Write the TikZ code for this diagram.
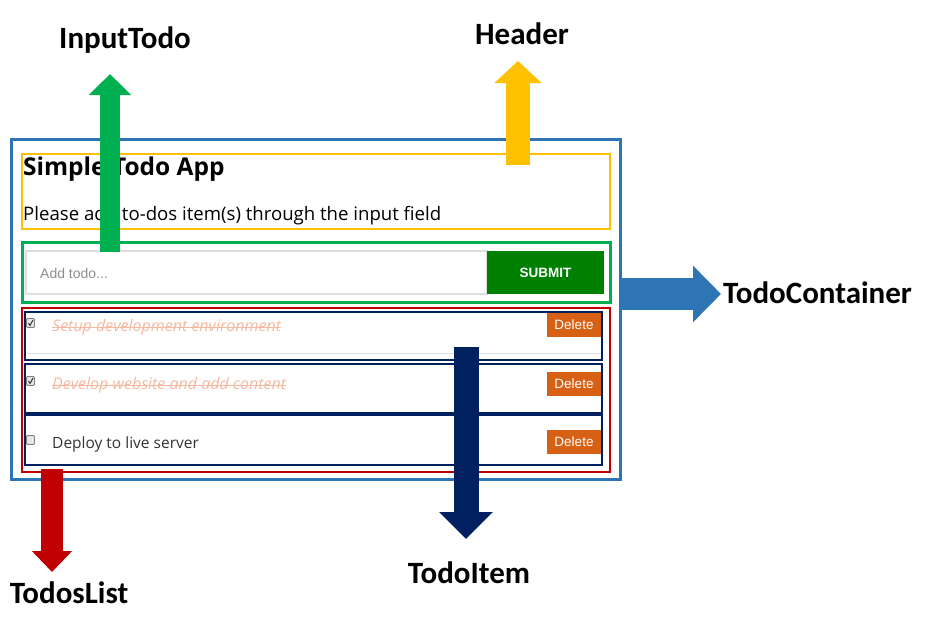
\documentclass[tikz,border=0pt]{standalone}
\usepackage{fontspec}
\setmainfont{Carlito}
\newfontfamily\uifont{Open Sans}
\newfontfamily\webfont{Liberation Sans}
\usetikzlibrary{arrows.meta}
\definecolor{contblue}{RGB}{46,117,182}
\definecolor{headyellow}{RGB}{255,192,0}
\definecolor{inputgreen}{RGB}{0,176,80}
\definecolor{listred}{RGB}{192,0,0}
\definecolor{itemnavy}{RGB}{0,32,96}
\definecolor{submitgreen}{RGB}{0,128,0}
\definecolor{deleteorange}{RGB}{214,96,20}
\definecolor{donetext}{RGB}{244,185,160}
\definecolor{fieldgray}{RGB}{222,222,222}
\begin{document}
\begin{tikzpicture}[x=1pt, y=-1pt,
  box/.style = {draw=#1, line width=2.5pt, inner sep=0pt},
  label/.style = {font=\bfseries\fontsize{31}{34}\selectfont, inner sep=0pt},
  fat/.style = {line width=#1},
  delbtn/.style = {fill=deleteorange, text=white, minimum width=54pt, minimum height=24pt, inner sep=0pt, font=\webfont\fontsize{13.5}{15}\selectfont},
  itemtext/.style = {anchor=west, inner sep=0pt, font=\uifont\fontsize{15.5}{18}\selectfont},
  donetask/.style = {itemtext, text=donetext, font=\uifont\itshape\fontsize{16}{18}\selectfont},
  chkbox/.style = {draw=gray, fill=black!10, line width=0.8pt, minimum width=8pt, minimum height=9pt, inner sep=0pt, rounded corners=1pt}]
\useasboundingbox (0,0) rectangle (934,626);
\node[box=contblue, line width=3pt, minimum width=609pt, minimum height=340pt] (container) at (315.5,309) {};
\node[box=headyellow, minimum width=588pt, minimum height=75pt] (header) at (316,191.5) {};
\node[box=inputgreen, line width=3pt, minimum width=588pt, minimum height=60pt] (input) at (316,272) {};
\node[box=listred, minimum width=588pt, minimum height=164pt] (list) at (316,390) {};
\node[box=itemnavy, minimum width=577pt, minimum height=48pt] (item1) at (313.5,336) {};
\node[box=itemnavy, minimum width=577pt, minimum height=49pt] (item2) at (313.5,388.5) {};
\node[box=itemnavy, minimum width=577pt, minimum height=50pt] (item3) at (313.5,440) {};
\node[anchor=west, inner sep=0pt, font=\uifont\bfseries\fontsize{24.5}{28}\selectfont] (title) at (23,169) {Simple Todo App};
\node[anchor=west, inner sep=0pt, font=\uifont\fontsize{18.6}{22}\selectfont] (intro) at (23,216) {Please add to-dos item(s) through the input field};
\node[draw=fieldgray, line width=1.5pt, minimum width=461pt, minimum height=43pt, inner sep=0pt] (field) at (256.5,272.5) {};
\node[anchor=west, inner sep=0pt, text=black!45, font=\webfont\fontsize{14}{16}\selectfont] (placeholder) at (40,273) {Add todo...};
\node[fill=submitgreen, text=white, minimum width=117pt, minimum height=43pt, inner sep=0pt, font=\webfont\bfseries\fontsize{13.5}{15}\selectfont] (submit) at (545.5,272.5) {SUBMIT};
\draw[fieldgray, line width=1pt] (27,353) -- (601,353);
\node[chkbox] (check1) at (30.5,323) {};
\node[chkbox] (check2) at (30.5,381) {};
\node[chkbox] (check3) at (30.5,440) {};
\draw[black!80, line width=1pt] (28.5,323) -- (30,325.5) -- (33,320);
\draw[black!80, line width=1pt] (28.5,381) -- (30,383.5) -- (33,378);
\node[donetask] (task1) at (52,327) {Setup development environment};
\node[donetask] (task2) at (52,385) {Develop website and add content};
\node[itemtext, text=black!80] (task3) at (52,444) {Deploy to live server};
\draw[donetext, line width=0.8pt] (task1.west) -- (task1.east);
\draw[donetext, line width=0.8pt] (task2.west) -- (task2.east);
\node[delbtn] (del1) at (574,325) {Delete};
\node[delbtn] (del2) at (574,383.5) {Delete};
\node[delbtn] (del3) at (574,442) {Delete};
\node[label] (inputlabel) at (125,40) {InputTodo};
\node[label] (headerlabel) at (522,34) {Header};
\node[label, anchor=west] (containerlabel) at (723,293) {TodoContainer};
\node[label] (listlabel) at (69,593) {TodosList};
\node[label] (itemlabel) at (469,573) {TodoItem};
\coordinate (inputfrom) at (110,252);
\coordinate (inputto) at (110,74);
\coordinate (headerfrom) at (518,165);
\coordinate (headerto) at (518,61);
\coordinate (containerfrom) at (621,294);
\coordinate (containerto) at (721,294);
\coordinate (listfrom) at (52,469);
\coordinate (listto) at (52,572);
\coordinate (itemfrom) at (466,347);
\coordinate (itemto) at (466,539);
\draw[fat=20pt, inputgreen, -{Triangle[width=41pt, length=21pt]}] (inputfrom) -- (inputto);
\draw[fat=24pt, headyellow, -{Triangle[width=46pt, length=22pt]}] (headerfrom) -- (headerto);
\draw[fat=32pt, contblue, -{Triangle[width=55pt, length=28pt]}] (containerfrom) -- (containerto);
\draw[fat=22pt, listred, -{Triangle[width=39pt, length=21pt]}] (listfrom) -- (listto);
\draw[fat=25pt, itemnavy, -{Triangle[width=52pt, length=27pt]}] (itemfrom) -- (itemto);
\end{tikzpicture}
\end{document}
